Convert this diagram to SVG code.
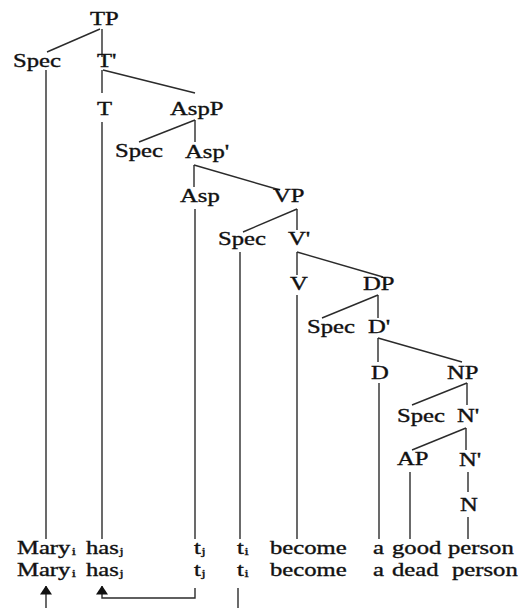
<svg xmlns="http://www.w3.org/2000/svg" width="520" height="608" viewBox="0 0 520 608">
<style>
.t{font-family:"Liberation Serif","Times New Roman",serif;font-size:18px;fill:#111;stroke:#111;stroke-width:0.35}
.s{font-size:11px}
.e{stroke:#2b2b2b;stroke-width:1.4;fill:none}
</style>
<defs>
<marker id="ah" markerUnits="userSpaceOnUse" markerWidth="9" markerHeight="12" viewBox="0 0 9 12" refX="8.5" refY="6" orient="auto">
<path d="M0,0 L9,6 L0,12 Z" fill="#111"/>
</marker>
</defs>
<rect width="520" height="608" fill="#fff"/>
<g id="connectors" class="e">
<path d="M100 29 L47 52"/>
<path d="M102 29 V57"/>
<path d="M46 70 V539"/>
<path d="M102 70 V93"/>
<path d="M103 70 L195 93"/>
<path d="M102 122 V539"/>
<path d="M195 120 L139 142"/>
<path d="M195 120 V142"/>
<path d="M194 165 V187"/>
<path d="M194 165 L280 190"/>
<path d="M195 209 V539"/>
<path d="M297 209 L243 232"/>
<path d="M297 209 V230"/>
<path d="M240 252 V539"/>
<path d="M297 252 V275"/>
<path d="M297 252 L383 277"/>
<path d="M297 295 V539"/>
<path d="M378 295 L322 318"/>
<path d="M378 295 V318"/>
<path d="M378 338 V362"/>
<path d="M378 338 L462 362"/>
<path d="M379 383 V539"/>
<path d="M467 383 L412 405"/>
<path d="M467 383 V405"/>
<path d="M466 428 L412 450"/>
<path d="M466 428 V450"/>
<path d="M410 472 V539"/>
<path d="M468 472 V492"/>
<path d="M468 517 V539"/>
<path d="M46 608 V586" marker-end="url(#ah)"/>
<path d="M195 588 V598 H102 V586" marker-end="url(#ah)"/>
<path d="M238 588 V608"/>
</g>
<g id="n-TP"><text class="t" transform="translate(90 25) scale(1.37 1)">TP</text></g>
<g id="n-SpecTP"><text class="t" transform="translate(13 67) scale(1.37 1)">Spec</text></g>
<g id="n-Tbar"><text class="t" transform="translate(97 67) scale(1.37 1)">T'</text></g>
<g id="n-T"><text class="t" transform="translate(97 115) scale(1.37 1)">T</text></g>
<g id="n-AspP"><text class="t" transform="translate(170 115) scale(1.37 1)">AspP</text></g>
<g id="n-SpecAspP"><text class="t" transform="translate(115 157) scale(1.37 1)">Spec</text></g>
<g id="n-Aspbar"><text class="t" transform="translate(185 158) scale(1.37 1)">Asp'</text></g>
<g id="n-Asp"><text class="t" transform="translate(180 202) scale(1.37 1)">Asp</text></g>
<g id="n-VP"><text class="t" transform="translate(273 202) scale(1.37 1)">VP</text></g>
<g id="n-SpecVP"><text class="t" transform="translate(218 245) scale(1.37 1)">Spec</text></g>
<g id="n-Vbar"><text class="t" transform="translate(288 245) scale(1.37 1)">V'</text></g>
<g id="n-V"><text class="t" transform="translate(290 290) scale(1.37 1)">V</text></g>
<g id="n-DP"><text class="t" transform="translate(363 290) scale(1.37 1)">DP</text></g>
<g id="n-SpecDP"><text class="t" transform="translate(307 333) scale(1.37 1)">Spec</text></g>
<g id="n-Dbar"><text class="t" transform="translate(368 333) scale(1.37 1)">D'</text></g>
<g id="n-D"><text class="t" transform="translate(371 379) scale(1.37 1)">D</text></g>
<g id="n-NP"><text class="t" transform="translate(447 379) scale(1.37 1)">NP</text></g>
<g id="n-SpecNP"><text class="t" transform="translate(397 422) scale(1.37 1)">Spec</text></g>
<g id="n-Nbar1"><text class="t" transform="translate(457 422) scale(1.37 1)">N'</text></g>
<g id="n-AP"><text class="t" transform="translate(397 465) scale(1.37 1)">AP</text></g>
<g id="n-Nbar2"><text class="t" transform="translate(459 466) scale(1.37 1)">N'</text></g>
<g id="n-N"><text class="t" transform="translate(460 511) scale(1.37 1)">N</text></g>
<g id="row1">
<text class="t" transform="translate(17 554) scale(1.37 1)">Mary<tspan class="s" dx="1" dy="1">i</tspan></text>
<text class="t" transform="translate(86 554) scale(1.37 1)">has<tspan class="s" dx="0.5" dy="1">j</tspan></text>
<text class="t" transform="translate(194 554) scale(1.37 1)">t<tspan class="s" dx="0.5" dy="1">j</tspan></text>
<text class="t" transform="translate(237 554) scale(1.37 1)">t<tspan class="s" dx="0.5" dy="1">i</tspan></text>
<text class="t" transform="translate(270 554) scale(1.37 1)">become</text>
<text class="t" transform="translate(373 554) scale(1.37 1)">a</text>
<text class="t" transform="translate(392 554) scale(1.37 1)">good</text>
<text class="t" transform="translate(448 554) scale(1.37 1)">person</text>
</g>
<g id="row2">
<text class="t" transform="translate(17 576) scale(1.37 1)">Mary<tspan class="s" dx="1" dy="1">i</tspan></text>
<text class="t" transform="translate(86 576) scale(1.37 1)">has<tspan class="s" dx="0.5" dy="1">j</tspan></text>
<text class="t" transform="translate(194 576) scale(1.37 1)">t<tspan class="s" dx="0.5" dy="1">j</tspan></text>
<text class="t" transform="translate(237 576) scale(1.37 1)">t<tspan class="s" dx="0.5" dy="1">i</tspan></text>
<text class="t" transform="translate(270 576) scale(1.37 1)">become</text>
<text class="t" transform="translate(373 576) scale(1.37 1)">a</text>
<text class="t" transform="translate(392 576) scale(1.37 1)">dead</text>
<text class="t" transform="translate(452 576) scale(1.37 1)">person</text>
</g>
</svg>
